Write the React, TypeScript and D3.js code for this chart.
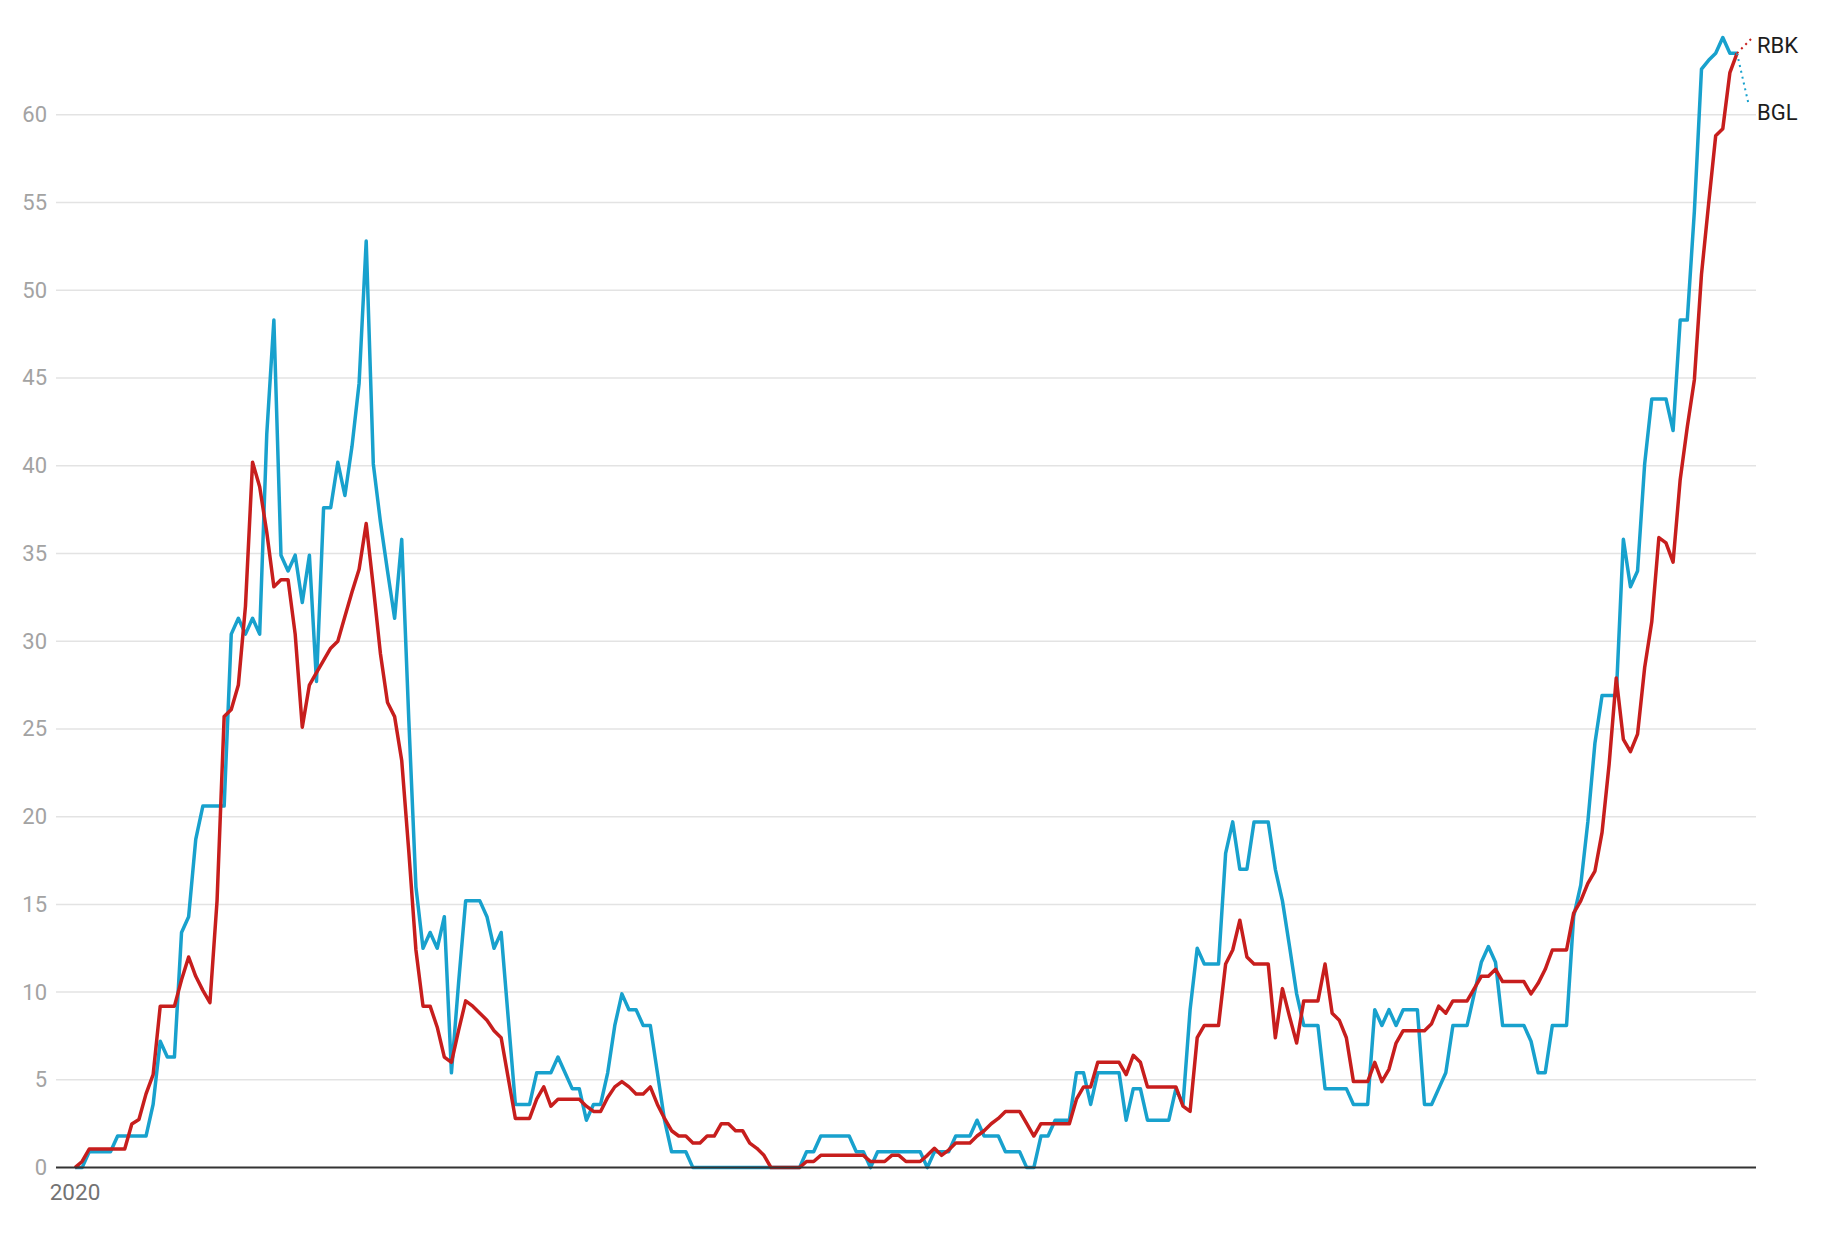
import React from "react";
import * as d3 from "d3";

// 7-day incidence per 100,000, daily values
const startDate = "2020-03-01";

const rbk: number[] = [
  0, 0.35, 1.06, 1.06, 1.06, 1.06, 1.06, 1.06, 2.49, 2.74,
  4.2, 5.3, 9.2, 9.2, 9.2, 10.7, 12.0, 10.9, 10.1, 9.4,
  15.2, 25.7, 26.1, 27.5, 32.0, 40.2, 38.8, 36.2, 33.1, 33.5,
  33.5, 30.4, 25.1, 27.5, 28.2, 28.9, 29.6, 30.0, 31.4, 32.8,
  34.1, 36.7, 33.1, 29.3, 26.5, 25.7, 23.2, 18.0, 12.4, 9.2,
  9.2, 8.0, 6.3, 6.0, 7.8, 9.5, 9.2, 8.8, 8.4, 7.8,
  7.4, 5.1, 2.8, 2.8, 2.8, 3.9, 4.6, 3.5, 3.9, 3.9,
  3.9, 3.9, 3.5, 3.2, 3.2, 4.0, 4.6, 4.9, 4.6, 4.2,
  4.2, 4.6, 3.6, 2.8, 2.1, 1.8, 1.8, 1.4, 1.4, 1.8,
  1.8, 2.5, 2.5, 2.1, 2.1, 1.4, 1.1, 0.7, 0, 0,
  0, 0, 0, 0.35, 0.35, 0.7, 0.7, 0.7, 0.7, 0.7,
  0.7, 0.7, 0.35, 0.35, 0.35, 0.7, 0.7, 0.35, 0.35, 0.35,
  0.7, 1.1, 0.7, 1.0, 1.4, 1.4, 1.4, 1.8, 2.1, 2.5,
  2.8, 3.2, 3.2, 3.2, 2.5, 1.8, 2.5, 2.5, 2.5, 2.5,
  2.5, 3.9, 4.6, 4.6, 6.0, 6.0, 6.0, 6.0, 5.3, 6.4,
  6.0, 4.6, 4.6, 4.6, 4.6, 4.6, 3.5, 3.2, 7.4, 8.1,
  8.1, 8.1, 11.6, 12.4, 14.1, 12.0, 11.6, 11.6, 11.6, 7.4,
  10.2, 8.6, 7.1, 9.5, 9.5, 9.5, 11.6, 8.8, 8.4, 7.4,
  4.9, 4.9, 4.9, 6.0, 4.9, 5.6, 7.1, 7.8, 7.8, 7.8,
  7.8, 8.2, 9.2, 8.8, 9.5, 9.5, 9.5, 10.2, 10.9, 10.9,
  11.3, 10.6, 10.6, 10.6, 10.6, 9.9, 10.5, 11.3, 12.4, 12.4,
  12.4, 14.5, 15.2, 16.2, 16.9, 19.1, 23.0, 27.9, 24.4, 23.7,
  24.7, 28.5, 31.1, 35.9, 35.6, 34.5, 39.2, 42.2, 44.9, 50.9,
  54.9, 58.8, 59.2, 62.4, 63.5,
];

const bgl: number[] = [
  0, 0, 0.9, 0.9, 0.9, 0.9, 1.8, 1.8, 1.8, 1.8,
  1.8, 3.6, 7.2, 6.3, 6.3, 13.4, 14.3, 18.7, 20.6, 20.6,
  20.6, 20.6, 30.4, 31.3, 30.4, 31.3, 30.4, 41.8, 48.3, 34.9,
  34.0, 34.9, 32.2, 34.9, 27.7, 37.6, 37.6, 40.2, 38.3, 41.1,
  44.7, 52.8, 40.1, 36.8, 34.0, 31.3, 35.8, 25.5, 16.0, 12.5,
  13.4, 12.5, 14.3, 5.4, 10.5, 15.2, 15.2, 15.2, 14.3, 12.5,
  13.4, 8.5, 3.6, 3.6, 3.6, 5.4, 5.4, 5.4, 6.3, 5.4,
  4.5, 4.5, 2.7, 3.6, 3.6, 5.4, 8.1, 9.9, 9.0, 9.0,
  8.1, 8.1, 5.4, 2.7, 0.9, 0.9, 0.9, 0, 0, 0,
  0, 0, 0, 0, 0, 0, 0, 0, 0, 0,
  0, 0, 0, 0.9, 0.9, 1.8, 1.8, 1.8, 1.8, 1.8,
  0.9, 0.9, 0, 0.9, 0.9, 0.9, 0.9, 0.9, 0.9, 0.9,
  0, 0.9, 0.9, 0.9, 1.8, 1.8, 1.8, 2.7, 1.8, 1.8,
  1.8, 0.9, 0.9, 0.9, 0, 0, 1.8, 1.8, 2.7, 2.7,
  2.7, 5.4, 5.4, 3.6, 5.4, 5.4, 5.4, 5.4, 2.7, 4.5,
  4.5, 2.7, 2.7, 2.7, 2.7, 4.5, 3.6, 9.0, 12.5, 11.6,
  11.6, 11.6, 17.9, 19.7, 17.0, 17.0, 19.7, 19.7, 19.7, 17.0,
  15.2, 12.6, 9.9, 8.1, 8.1, 8.1, 4.5, 4.5, 4.5, 4.5,
  3.6, 3.6, 3.6, 9.0, 8.1, 9.0, 8.1, 9.0, 9.0, 9.0,
  3.6, 3.6, 4.5, 5.4, 8.1, 8.1, 8.1, 9.9, 11.7, 12.6,
  11.7, 8.1, 8.1, 8.1, 8.1, 7.2, 5.4, 5.4, 8.1, 8.1,
  8.1, 14.3, 16.1, 19.7, 24.2, 26.9, 26.9, 26.9, 35.8, 33.1,
  34.0, 40.1, 43.8, 43.8, 43.8, 42.0, 48.3, 48.3, 54.5, 62.6,
  63.1, 63.5, 64.4, 63.5, 63.5,
];

const yTicks: number[] = [0, 5, 10, 15, 20, 25, 30, 35, 40, 45, 50, 55, 60];
const xTickLabel = "2020";
const seriesNames = { rbk: "RBK", bgl: "BGL" };
const colors = { rbk: "#c71e1d", bgl: "#18a1cd" };

const W = 1840;
const H = 1240;

export default function App() {
  const start = d3.timeParse("%Y-%m-%d")(startDate) as Date;
  const dates = rbk.map((_, i) => d3.timeDay.offset(start, i));
  const last = dates.length - 1;

  const x = d3.scaleTime().domain([dates[0], dates[last]]).range([75, 1737]);
  const y = d3.scaleLinear().domain([0, 60]).range([1167.6, 114.7]);

  const line = d3
    .line<number>()
    .x((_, i) => x(dates[i]))
    .y((d) => y(d));

  const gridX0 = 56;
  const gridX1 = 1756;
  const font = "Roboto, 'Noto Sans', sans-serif";

  const endX = x(dates[last]);
  const rEndY = y(rbk[last]);
  const bEndY = y(bgl[last]);

  return (
    <svg
      width={W}
      height={H}
      style={{ position: "absolute", left: 0, top: 0, background: "#fff", display: "block" }}
      fontFamily={font}
    >
      <rect x={0} y={0} width={W} height={H} fill="#fff" />
      {yTicks.map((t) => (
        <g key={t}>
          {t !== 0 && (
            <line x1={gridX0} x2={gridX1} y1={y(t)} y2={y(t)} stroke="#e3e3e3" strokeWidth={1.5} />
          )}
          <text
            x={47}
            y={y(t)}
            textAnchor="end"
            dominantBaseline="central"
            fontSize={22}
            fill="#a3a3a3"
          >
            {t}
          </text>
        </g>
      ))}
      <text x={x(dates[0])} y={1200} textAnchor="middle" fontSize={22.5} fill="#737373">
        {xTickLabel}
      </text>

      <path d={line(bgl) || ""} fill="none" stroke={colors.bgl} strokeWidth={3.5} strokeLinejoin="round" />
      <path d={line(rbk) || ""} fill="none" stroke={colors.rbk} strokeWidth={3.5} strokeLinejoin="round" />

      <line x1={gridX0} x2={gridX1} y1={y(0)} y2={y(0)} stroke="#333" strokeWidth={2} />

      <line x1={endX} y1={bEndY} x2={1749} y2={106} stroke={colors.bgl} strokeWidth={2} strokeDasharray="2,4" />
      <line x1={endX} y1={rEndY} x2={1751} y2={39} stroke={colors.rbk} strokeWidth={2} strokeDasharray="2,4" />

      <text x={1757} y={45} dominantBaseline="central" fontSize={22} fill="#1d1d1d">
        {seriesNames.rbk}
      </text>
      <text x={1757} y={112} dominantBaseline="central" fontSize={22} fill="#1d1d1d">
        {seriesNames.bgl}
      </text>
    </svg>
  );
}
